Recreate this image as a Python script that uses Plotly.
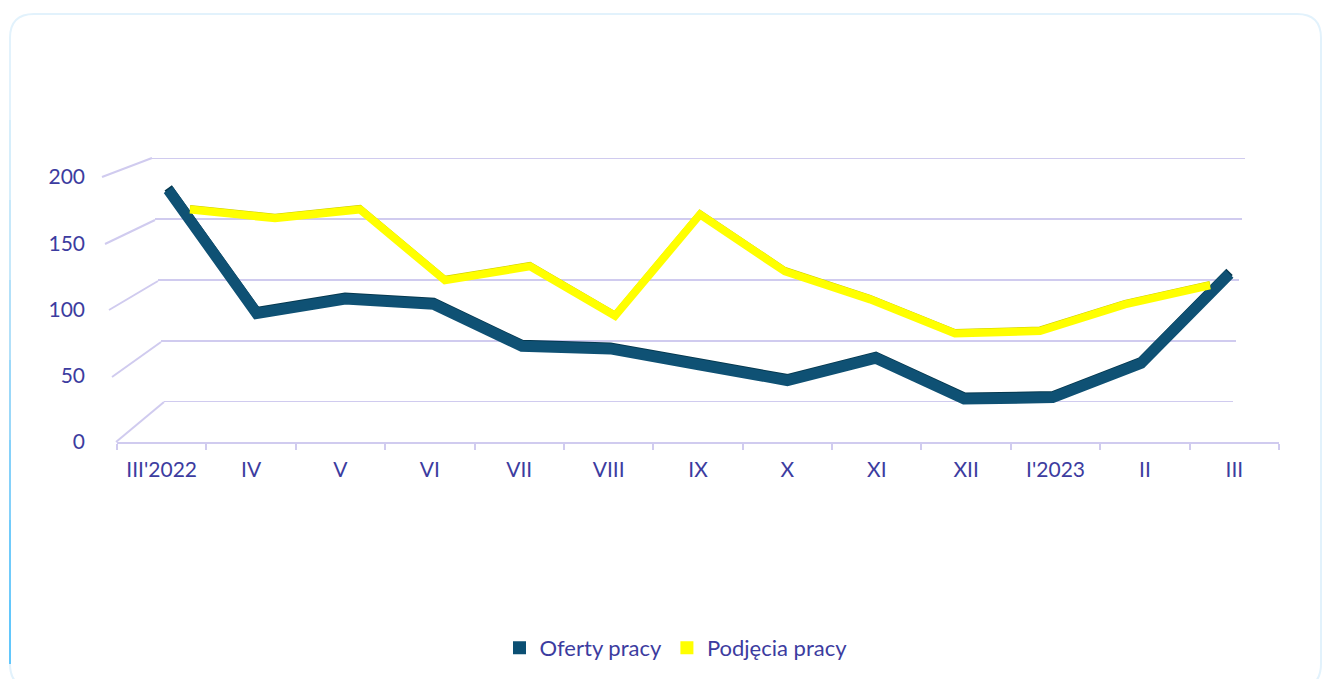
import plotly.graph_objects as go

# ---------------- data ----------------
months = ["III'2022", "IV", "V", "VI", "VII", "VIII", "IX", "X", "XI", "XII", "I'2023", "II", "III"]
oferty = [189, 95, 106, 102, 70, 68, 56, 44, 61, 30, 31, 57, 125]
podjecia = [166, 159, 166, 110, 121, 82, 162, 117, 95, 68, 70, 91, 106]
y_ticks = [0, 50, 100, 150, 200]
series_names = ["Oferty pracy", "Podjęcia pracy"]

# ---------------- layout helpers ----------------
W, H = 1327, 679
def px(x):
    return x / W
def py(y):
    return 1 - y / H

TXT = "#3c3ca0"
GRID = "#d0cbef"
FONT = "Lato"
FS = 21
DARK_TOP, DARK_EDGE = "#05384f", "#0f5174"
YEL_TOP, YEL_EDGE = "#cccc00", "#ffff00"

fig = go.Figure()

# yellow ribbon (back row)
fig.add_trace(go.Scatter(x=months, y=podjecia, xaxis="x4", yaxis="y6", mode="lines",
                         line=dict(color=YEL_EDGE, width=8), showlegend=False, hoverinfo="skip"))
fig.add_trace(go.Scatter(x=months, y=podjecia, xaxis="x4", yaxis="y4", mode="lines",
                         line=dict(color=YEL_TOP, width=5), showlegend=False, name=series_names[1]))
# dark ribbon (front row)
fig.add_trace(go.Scatter(x=months, y=oferty, xaxis="x3", yaxis="y5", mode="lines",
                         line=dict(color=DARK_EDGE, width=11), showlegend=False, hoverinfo="skip"))
fig.add_trace(go.Scatter(x=months, y=oferty, xaxis="x3", yaxis="y3", mode="lines",
                         line=dict(color=DARK_TOP, width=9), showlegend=False, name=series_names[0]))

# legend entries (square swatches)
fig.add_trace(go.Scatter(x=[None], y=[None], mode="markers", name=series_names[0],
                         marker=dict(symbol="square", size=13, color="#0b4f73")))
fig.add_trace(go.Scatter(x=[None], y=[None], mode="markers", name=series_names[1],
                         marker=dict(symbol="square", size=13, color="#ffff00")))

# ---------------- pseudo-3D walls / gridlines ----------------
shapes = []
front_left = {0: (116, 442), 50: (112, 377), 100: (109, 310), 150: (105, 244), 200: (102, 177)}
back_left_x = {0: 164, 50: 161, 100: 158, 150: 155, 200: 152}
back_right_x = {0: 1233, 50: 1236, 100: 1239, 150: 1242, 200: 1245}
back_y = {0: 402, 50: 342, 100: 281, 150: 220, 200: 158}
for v in y_ticks:
    fx, fy = front_left[v]
    shapes.append(dict(type="line", xref="paper", yref="paper", layer="below",
                       x0=px(fx), y0=py(fy), x1=px(back_left_x[v]), y1=py(back_y[v]),
                       line=dict(color=GRID, width=2)))
    shapes.append(dict(type="line", xref="paper", yref="y2", layer="below",
                       x0=px(back_left_x[v]), y0=v, x1=px(back_right_x[v]), y1=v,
                       line=dict(color=GRID, width=2)))

# card border
L, T, R, B, r = 10, 14, 1321, 688, 24
path = (f"M {px(L+r)},{py(B)} Q {px(L)},{py(B)} {px(L)},{py(B-r)} "
        f"L {px(L)},{py(T+r)} Q {px(L)},{py(T)} {px(L+r)},{py(T)} "
        f"L {px(R-r)},{py(T)} Q {px(R)},{py(T)} {px(R)},{py(T+r)} "
        f"L {px(R)},{py(B-r)} Q {px(R)},{py(B)} {px(R-r)},{py(B)} Z")
shapes.append(dict(type="path", xref="paper", yref="paper", path=path, layer="below",
                   line=dict(color="#e2f2fc", width=2)))
left_cols = ["#e2f2fc", "#d6eefb", "#c6e8fa", "#b2e0f9", "#9bd8f9", "#85d1fa", "#70cbfb", "#62c7fc"]
seg_y = [40, 120, 200, 280, 360, 440, 520, 600, 664]
for i, c in enumerate(left_cols):
    shapes.append(dict(type="line", xref="paper", yref="paper", layer="below",
                       x0=px(L), y0=py(seg_y[i]), x1=px(L), y1=py(seg_y[i + 1]),
                       line=dict(color=c, width=2)))

hidden = dict(visible=False, showgrid=False, zeroline=False, fixedrange=True)

fig.update_layout(
    width=W, height=H, autosize=False,
    margin=dict(l=0, r=0, t=0, b=0, pad=0, autoexpand=False),
    paper_bgcolor="white", plot_bgcolor="rgba(0,0,0,0)",
    font=dict(family=FONT, size=FS, color=TXT),
    shapes=shapes,
    showlegend=True,
    legend=dict(orientation="h", xanchor="center", yanchor="middle",
                x=px(676), y=py(648), font=dict(family=FONT, size=22, color=TXT),
                bgcolor="rgba(0,0,0,0)", itemclick=False, itemwidth=30,
                tracegroupgap=0, entrywidthmode="pixels"),
    # front plane: category axis and value labels
    xaxis=dict(domain=[px(117), px(1279)], anchor="y", type="category",
               categoryorder="array", categoryarray=months, range=[-0.5, 12.5],
               showline=True, linecolor=GRID, linewidth=2, automargin=False,
               ticks="outside", tickson="boundaries", ticklen=6, tickwidth=2, tickcolor=GRID,
               showgrid=False, zeroline=False, ticklabelstandoff=8,
               tickfont=dict(family=FONT, size=FS, color=TXT), fixedrange=True),
    yaxis=dict(domain=[py(442), py(177)], anchor="x", range=[0, 200], automargin=False,
               tickvals=y_ticks, showgrid=False, zeroline=False, showline=False,
               ticks="", ticklabelstandoff=31,
               tickfont=dict(family=FONT, size=FS, color=TXT), fixedrange=True),
    # back plane (gridlines)
    xaxis2=dict(domain=[px(164), px(1233)], anchor="y2", range=[0, 1], **hidden),
    yaxis2=dict(domain=[py(402), py(158)], anchor="x2", range=[0, 200], **hidden),
    # row of "Oferty pracy"
    xaxis3=dict(domain=[px(124), px(1273.75)], anchor="y3", type="category",
                categoryorder="array", categoryarray=months, range=[-0.5, 12.5], **hidden),
    yaxis3=dict(domain=[py(436.4), py(173.3)], anchor="x3", range=[0, 200], **hidden),
    yaxis5=dict(domain=[py(438.4), py(175.3)], anchor="x3", range=[0, 200], **hidden),
    # row of "Podjęcia pracy"
    xaxis4=dict(domain=[px(147.5), px(1252.5)], anchor="y4", type="category",
                categoryorder="array", categoryarray=months, range=[-0.5, 12.5], **hidden),
    yaxis4=dict(domain=[py(417.6), py(164.4)], anchor="x4", range=[0, 200], **hidden),
    yaxis6=dict(domain=[py(419.6), py(166.4)], anchor="x4", range=[0, 200], **hidden),
)

fig.write_html("out.html", config={"displayModeBar": False},
               post_script="document.body.style.margin='0';document.body.style.overflow='hidden';")
